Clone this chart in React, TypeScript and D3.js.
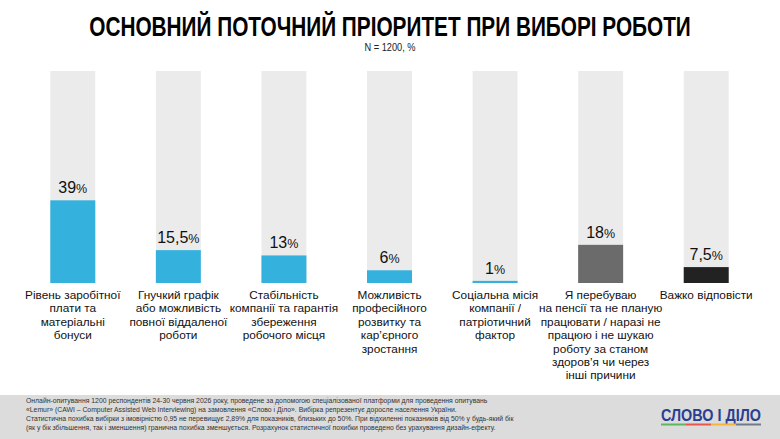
import * as d3 from 'd3';
import React, { useRef, useEffect } from 'react';

const categories: string[][] = [
  ['Рівень заробітної', 'плати та', 'матеріальні', 'бонуси'],
  ['Гнучкий графік', 'або можливість', 'повної віддаленої', 'роботи'],
  ['Стабільність', 'компанії та гарантія', 'збереження', 'робочого місця'],
  ['Можливість', 'професійного', 'розвитку та', 'кар\u02bcєрного', 'зростання'],
  ['Соціальна місія', 'компанії /', 'патріотичний', 'фактор'],
  ['Я перебуваю', 'на пенсії та не планую', 'працювати / наразі не', 'працюю і не шукаю', 'роботу за станом', 'здоров\u02bcя чи через', 'інші причини'],
  ['Важко відповісти'],
];
const values = [39, 15.5, 13, 6, 1, 18, 7.5];
const barColors = ['#35b1de', '#35b1de', '#35b1de', '#35b1de', '#35b1de', '#6b6b6b', '#222222'];

const footnote = [
  'Онлайн-опитування 1200 респондентів 24-30 червня 2026 року, проведене за допомогою спеціалізованої платформи для проведення опитувань',
  '«Lemur» (CAWI – Computer Assisted Web Interviewing) на замовлення «Слово і Діло». Вибірка репрезентує доросле населення України.',
  'Статистична похибка вибірки з імовірністю 0,95 не перевищує 2,89% для показників, близьких до 50%. При відхиленні показників від 50% у будь-який бік',
  '(як у бік збільшення, так і зменшення) гранична похибка зменшується. Розрахунок статистичної похибки проведено без урахування дизайн-ефекту.',
];
const logoStripes = ['#5cb85c', '#e8574c', '#f4b63a', '#6f7c88'];

const W = 780;
const H = 439;
const FONT = "'Liberation Sans', Arial, sans-serif";

const App: React.FC = () => {
  const ref = useRef<HTMLDivElement>(null);

  useEffect(() => {
    if (!ref.current) return;
    ref.current.innerHTML = '';

    const svg = d3.select(ref.current)
      .append('svg')
      .attr('width', W)
      .attr('height', H)
      .style('display', 'block')
      .style('font-family', FONT);

    svg.append('rect').attr('width', W).attr('height', H).attr('fill', '#fff');

    // title, squeezed horizontally to a narrow look
    svg.append('text')
      .attr('transform', `translate(${W / 2},36) scale(0.77,1)`)
      .attr('text-anchor', 'middle')
      .attr('font-size', 27).attr('font-weight', 700)
      .attr('fill', '#000')
      .text('ОСНОВНИЙ ПОТОЧНИЙ ПРІОРИТЕТ ПРИ ВИБОРІ РОБОТИ');

    svg.append('text')
      .attr('transform', `translate(${W / 2},51) scale(0.88,1)`)
      .attr('text-anchor', 'middle')
      .attr('font-size', 10.5)
      .attr('fill', '#222')
      .text('N = 1200, %');

    const idx = values.map((_, i) => String(i));
    const x = d3.scaleBand()
      .domain(idx)
      .range([20, 759])
      .paddingInner(0.574)
      .paddingOuter(0.287);

    const y = d3.scaleLinear().domain([0, 100]).range([283, 71]);

    const g = svg.append('g');

    // full-height track
    g.selectAll('.track')
      .data(values)
      .enter()
      .append('rect')
      .attr('x', (_, i) => x(String(i)) ?? 0)
      .attr('y', y(100))
      .attr('width', x.bandwidth())
      .attr('height', y(0) - y(100))
      .attr('fill', '#ebebeb');

    g.selectAll('.bar')
      .data(values)
      .enter()
      .append('rect')
      .attr('x', (_, i) => x(String(i)) ?? 0)
      .attr('y', d => y(d))
      .attr('width', x.bandwidth())
      .attr('height', d => y(0) - y(d))
      .attr('fill', (_, i) => barColors[i]);

    // value labels
    const vl = g.selectAll('.val')
      .data(values)
      .enter()
      .append('text')
      .attr('x', (_, i) => (x(String(i)) ?? 0) + x.bandwidth() / 2)
      .attr('y', d => y(d) - 7)
      .attr('text-anchor', 'middle')
      .attr('fill', '#111');
    vl.append('tspan').attr('font-size', 16).text(d => String(d).replace('.', ','));
    vl.append('tspan').attr('font-size', 12.5).text('%');

    // category labels
    const cl = g.selectAll('.cat')
      .data(categories)
      .enter()
      .append('text')
      .attr('text-anchor', 'middle')
      .attr('font-size', 11.8)
      .attr('fill', '#111');
    cl.each(function (lines, i) {
      const cx = (x(String(i)) ?? 0) + x.bandwidth() / 2;
      d3.select(this).selectAll('tspan')
        .data(lines)
        .enter()
        .append('tspan')
        .attr('x', cx)
        .attr('y', (_, j) => 299 + j * 13.4)
        .text(l => l);
    });

    // footer band
    svg.append('rect')
      .attr('x', 0).attr('y', 395)
      .attr('width', W).attr('height', H - 395)
      .attr('fill', '#dcdcdc');

    svg.append('g')
      .selectAll('text')
      .data(footnote)
      .enter()
      .append('text')
      .attr('x', 26)
      .attr('y', (_, i) => 402.6 + i * 9)
      .attr('font-size', 6.85)
      .attr('fill', '#333')
      .text(d => d);

    // logo
    const logo = svg.append('g').attr('transform', 'translate(661,421)');
    logo.append('text')
      .attr('x', 0).attr('y', 0)
      .attr('font-size', 16).attr('font-weight', 700)
      .attr('textLength', 100).attr('lengthAdjust', 'spacingAndGlyphs')
      .attr('fill', '#2b3f91')
      .text('СЛОВО І ДІЛО');
    logo.selectAll('rect')
      .data(logoStripes)
      .enter()
      .append('rect')
      .attr('x', (_, i) => i * 25)
      .attr('y', 2.5)
      .attr('width', 25)
      .attr('height', 2)
      .attr('fill', d => d);
  }, []);

  return (
    <div ref={ref} style={{ position: 'absolute', left: 0, top: 0 }} />
  );
};

export default App;
